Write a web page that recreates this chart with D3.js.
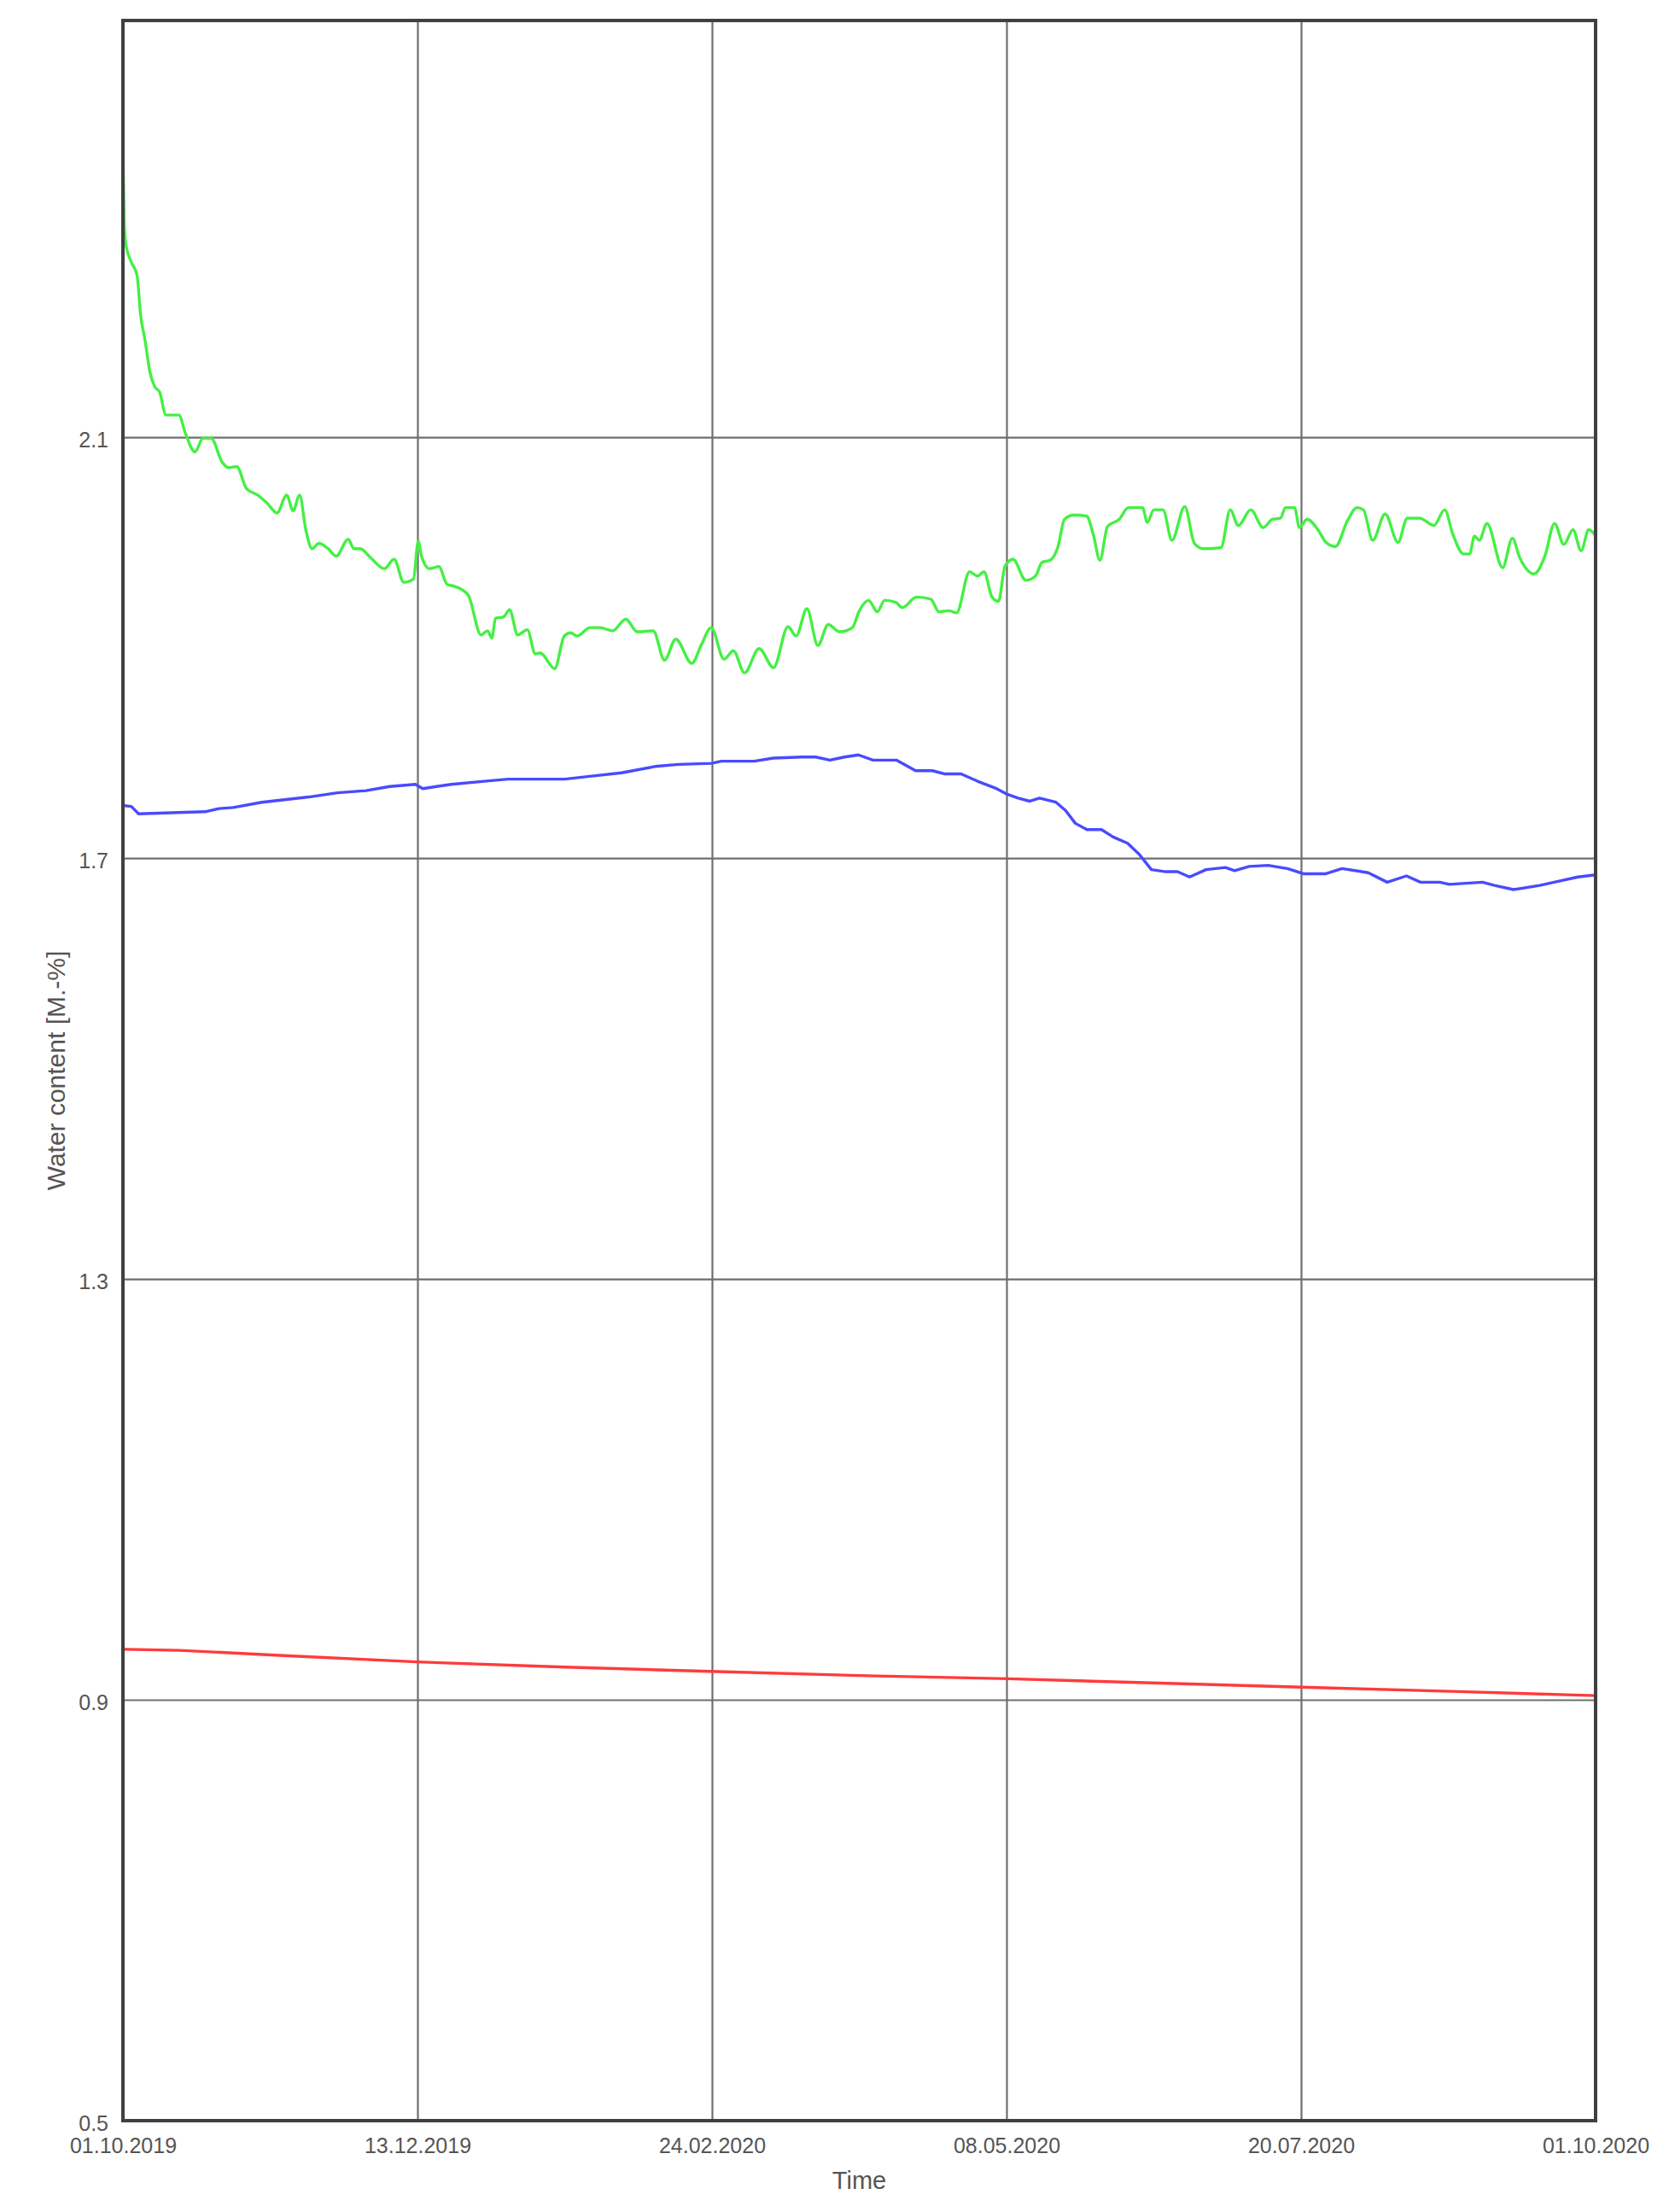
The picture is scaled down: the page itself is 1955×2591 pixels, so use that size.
<!DOCTYPE html>
<html>
<head>
<meta charset="utf-8">
<script src="https://cdn.jsdelivr.net/npm/d3@7"></script>
<style>
  body { margin: 0; background: #fff; }
  text { font-family: "Liberation Sans", Arial, sans-serif; fill: #555; }
</style>
</head>
<body>
<div id="chart"></div>
<script>
// tick labels (the axis splits the year into 5 equal parts)
var xTickLabels = ["01.10.2019", "13.12.2019", "24.02.2020", "08.05.2020", "20.07.2020", "01.10.2020"];
var yTickValues = [0.5, 0.9, 1.3, 1.7, 2.1];

// series: days since 01.10.2019 and water content [M.-%]
var greenDays = [0, 0.3, 0.7, 2, 3.5, 4.4, 5.5, 6.7, 7.9, 9.1, 10.7, 13.9, 15.5, 17.9, 19.9, 21.9, 24.7, 26.3, 28.3, 30.7,
  33.5, 35.9, 38.3, 40.7, 42.3, 43.9, 45.5, 47, 48.7, 51, 53, 56, 57.4, 59, 61.4, 65, 67.4, 69.8, 72.2, 73.4,
  74.2, 76.2, 78.5, 80.6, 82.6, 85.8, 89, 90.6, 91.7, 92.6, 94.5, 96.1, 98.1, 100.5, 102.5, 103.7, 107.3, 109.7, 111.3, 112.9,
  116.1, 118.5, 121.7, 125, 127.8, 131.8, 134.6, 137.4, 141.4, 143.8, 146.2, 149.4, 151.7, 154.5, 158.1, 161.7, 165.3, 167.3, 170, 172.7,
  175.3, 178.1, 181.3, 182.9, 185.3, 187.5, 189.3, 192.1, 193.7, 197.2, 200.8, 202.8, 205.2, 207.2, 210.4, 212.4, 214, 216, 217.6, 219.2,
  221.2, 224.4, 226.8, 228.4, 230.4, 232.4, 234, 236.4, 239.5, 241.2, 242.8, 244.7, 247.6, 249.9, 253.4, 254.6, 256.2, 258.5, 260.7, 263.9,
  266.3, 268.6, 272.9, 275.2, 277.2, 280.3, 283.4, 285.7, 287.7, 288.9, 291.2, 292.4, 294.3, 297, 299, 301.3, 304.4, 306.7, 308.3, 310.6,
  313.7, 316.9, 319.2, 322.3, 323.5, 325.8, 328.5, 330.5, 333.2, 334.7, 335.9, 337.1, 339, 342.9, 345.3, 347.2, 350.7, 353.4, 355.8, 358.1,
  360.4, 362.4, 364.3, 365.9];
var greenValues = [2.368, 2.309, 2.284, 2.267, 2.254, 2.216, 2.192, 2.162, 2.148, 2.143, 2.121, 2.121, 2.104, 2.086, 2.099, 2.099, 2.076, 2.071, 2.072, 2.051,
  2.045, 2.037, 2.028, 2.045, 2.030, 2.045, 2.011, 1.994, 1.999, 1.994, 1.987, 2.003, 1.994, 1.994, 1.986, 1.975, 1.984, 1.962, 1.965, 2.001,
  1.987, 1.975, 1.977, 1.960, 1.958, 1.950, 1.912, 1.916, 1.909, 1.928, 1.929, 1.936, 1.912, 1.917, 1.894, 1.895, 1.880, 1.911, 1.914, 1.911,
  1.919, 1.919, 1.916, 1.927, 1.915, 1.916, 1.888, 1.908, 1.885, 1.903, 1.919, 1.889, 1.897, 1.876, 1.899, 1.881, 1.920, 1.911, 1.937, 1.902,
  1.922, 1.915, 1.919, 1.934, 1.945, 1.934, 1.945, 1.943, 1.938, 1.948, 1.946, 1.934, 1.935, 1.933, 1.972, 1.968, 1.972, 1.948, 1.944, 1.977,
  1.984, 1.964, 1.968, 1.981, 1.983, 1.996, 2.022, 2.026, 2.025, 2.007, 1.983, 2.015, 2.022, 2.033, 2.033, 2.019, 2.031, 2.031, 2.002, 2.034,
  1.999, 1.994, 1.995, 2.031, 2.016, 2.031, 2.014, 2.022, 2.023, 2.033, 2.033, 2.014, 2.022, 2.012, 2.000, 1.996, 2.021, 2.033, 2.031, 2.002,
  2.027, 2.000, 2.023, 2.023, 2.021, 2.016, 2.031, 2.008, 1.989, 1.989, 2.006, 2.002, 2.018, 1.976, 2.004, 1.985, 1.970, 1.987, 2.018, 1.998,
  2.012, 1.992, 2.012, 2.007];

var blueDays = [0, 2.1, 3.9, 20.4, 23.9, 27.4, 34.5, 46.2, 53.3, 60.4, 66.3, 72.7, 74.5, 81.6, 89.8, 95.7, 109.8, 116.9, 123.9, 132.2,
  138.1, 146.3, 148.7, 156.9, 161.6, 168.7, 172.2, 175.7, 179.3, 182.8, 186.4, 192.3, 197, 201.2, 204.1, 208.3, 212.4, 217.1, 219.5, 222.5,
  225.4, 227.8, 231.9, 234.3, 236.7, 239.6, 243.2, 246.1, 249.7, 252.7, 255.6, 259.2, 262.1, 265.1, 269.2, 274, 276.3, 279.9, 284.6, 289.4,
  293.5, 298.8, 303, 309.5, 314.2, 319, 322.5, 327.3, 329.6, 337.9, 340.9, 345.6, 352.1, 356.9, 361.6, 366];
var blueValues = [1.750, 1.749, 1.742, 1.744, 1.747, 1.748, 1.753, 1.758, 1.762, 1.764, 1.768, 1.770, 1.766, 1.770, 1.773, 1.775, 1.775, 1.778, 1.781, 1.787,
  1.789, 1.790, 1.792, 1.792, 1.795, 1.796, 1.796, 1.793, 1.796, 1.798, 1.793, 1.793, 1.783, 1.783, 1.780, 1.780, 1.773, 1.766, 1.761, 1.757,
  1.754, 1.757, 1.753, 1.745, 1.733, 1.727, 1.727, 1.720, 1.714, 1.703, 1.689, 1.687, 1.687, 1.682, 1.689, 1.691, 1.688, 1.692, 1.693, 1.690,
  1.685, 1.685, 1.690, 1.686, 1.677, 1.683, 1.677, 1.677, 1.675, 1.677, 1.674, 1.670, 1.674, 1.678, 1.682, 1.684];

var redDays = [0, 14, 40, 73, 110, 146, 183, 220, 256, 293, 330, 366];
var redValues = [0.948, 0.947, 0.942, 0.936, 0.931, 0.927, 0.923, 0.920, 0.916, 0.912, 0.908, 0.904];

var width = 1955, height = 2591;
var plotLeft = 144, plotRight = 1869, plotTop = 24, plotBottom = 2484;

var parseDate = d3.utcParse("%d.%m.%Y");
var start = parseDate(xTickLabels[0]);
var end = parseDate(xTickLabels[xTickLabels.length - 1]);

function dayToDate(d) { return new Date(start.getTime() + d * 864e5); }

var x = d3.scaleUtc().domain([start, end]).range([plotLeft, plotRight]);
var y = d3.scaleLinear().domain([0.5, 2.496]).range([plotBottom, plotTop]);

// tick positions: equal steps over the year
var step = (end - start) / (xTickLabels.length - 1);
var xTickDates = xTickLabels.map(function(d, i) { return new Date(start.getTime() + i * step); });

var svg = d3.select("#chart")
    .append("svg")
    .attr("width", width)
    .attr("height", height);

// grid + x labels
var xAxis = d3.axisBottom(x)
    .tickValues(xTickDates)
    .tickFormat(function(d, i) { return xTickLabels[i]; })
    .tickSize(-(plotBottom - plotTop))
    .tickPadding(20);

var gx = svg.append("g")
    .attr("transform", "translate(0," + plotBottom + ")")
    .call(xAxis);
gx.select(".domain").remove();
gx.selectAll("line").attr("stroke", "#6e6e6e").attr("stroke-width", 2.2);
gx.selectAll("text").attr("font-size", 25).attr("fill", "#555");

var yAxis = d3.axisLeft(y)
    .tickValues(yTickValues)
    .tickFormat(d3.format(".1f"))
    .tickSize(-(plotRight - plotLeft))
    .tickPadding(17);

var gy = svg.append("g")
    .attr("transform", "translate(" + plotLeft + ",0)")
    .call(yAxis);
gy.select(".domain").remove();
gy.selectAll("line").attr("stroke", "#6e6e6e").attr("stroke-width", 2.2);
gy.selectAll("text").attr("font-size", 25).attr("fill", "#555").attr("dy", "0.45em");

svg.append("clipPath").attr("id", "plotclip")
  .append("rect")
    .attr("x", plotLeft + 2).attr("y", plotTop)
    .attr("width", plotRight - plotLeft - 2).attr("height", plotBottom - plotTop);

function series(days, values) {
    return days.map(function(d, i) { return { date: dayToDate(d), value: values[i] }; });
}

var line = d3.line()
    .x(function(d) { return x(d.date); })
    .y(function(d) { return y(d.value); });

var smoothLine = d3.line()
    .curve(d3.curveMonotoneX)
    .x(function(d) { return x(d.date); })
    .y(function(d) { return y(d.value); });

var lines = [
    { data: series(redDays, redValues), color: "#ff3b3b", gen: line },
    { data: series(blueDays, blueValues), color: "#4a4aff", gen: line },
    { data: series(greenDays, greenValues), color: "#44f044", gen: smoothLine }
];

svg.append("g").attr("clip-path", "url(#plotclip)")
  .selectAll("path")
  .data(lines)
  .enter().append("path")
    .attr("d", function(d) { return d.gen(d.data); })
    .attr("fill", "none")
    .attr("stroke", function(d) { return d.color; })
    .attr("stroke-width", 3.4)
    .attr("stroke-linejoin", "round");

// frame
svg.append("rect")
    .attr("x", plotLeft).attr("y", plotTop)
    .attr("width", plotRight - plotLeft).attr("height", plotBottom - plotTop)
    .attr("fill", "none")
    .attr("stroke", "#404040")
    .attr("stroke-width", 4);

svg.append("text")
    .attr("x", (plotLeft + plotRight) / 2)
    .attr("y", 2564)
    .attr("text-anchor", "middle")
    .attr("font-size", 29)
    .text("Time");

svg.append("text")
    .attr("transform", "translate(76," + ((plotTop + plotBottom) / 2) + ") rotate(-90)")
    .attr("text-anchor", "middle")
    .attr("font-size", 30)
    .text("Water content [M.-%]");
</script>
</body>
</html>
